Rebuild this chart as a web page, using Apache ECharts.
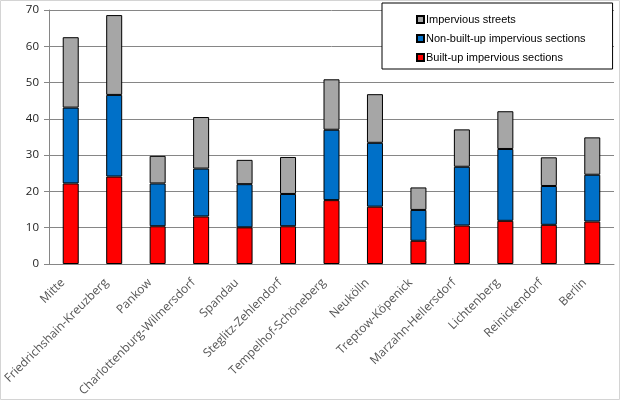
<!DOCTYPE html>
<html>
<head>
<meta charset="utf-8">
<script src="https://cdn.jsdelivr.net/npm/echarts@6/dist/echarts.min.js"></script>
<style>
  html, body { margin: 0; padding: 0; background: #fff; }
  #chart { width: 620px; height: 400px; }
</style>
</head>
<body>
<div id="chart"></div>
<script>
const districts = [
  "Mitte", "Friedrichshain-Kreuzberg", "Pankow", "Charlottenburg-Wilmersdorf",
  "Spandau", "Steglitz-Zehlendorf", "Tempelhof-Schöneberg", "Neukölln",
  "Treptow-Köpenick", "Marzahn-Hellersdorf", "Lichtenberg", "Reinickendorf", "Berlin"
];
const builtUp = [22.2, 24.1, 10.4, 13.1, 10.1, 10.4, 17.6, 15.8, 6.4, 10.6, 11.9, 10.8, 11.7];
const nonBuiltUp = [20.9, 22.5, 11.8, 13.2, 11.9, 8.9, 19.4, 17.6, 8.5, 16.2, 19.8, 10.7, 12.9];
const streets = [19.4, 22.0, 7.6, 14.2, 6.7, 10.2, 13.9, 13.4, 6.2, 10.3, 10.4, 7.9, 10.3];
const yTicks = [0, 10, 20, 30, 40, 50, 60, 70];

const chart = echarts.init(document.getElementById("chart"), null, { renderer: "canvas" });

const barStyle = (color) => ({ color: color, borderColor: "#000", borderWidth: 1 });

chart.setOption({
  animation: false,
  textStyle: { fontFamily: "Open Sans" },
  graphic: [{
    type: "rect",
    shape: { x: 0.5, y: 0.5, width: 619, height: 399 },
    style: { fill: "none", stroke: "#d4d4d4", lineWidth: 1 },
    z: 100
  }],
  grid: { left: 49, right: 6, top: 10, bottom: 136 },
  legend: {
    orient: "vertical",
    left: 382,
    top: 3,
    padding: [11, 27, 6, 34],
    itemGap: 8,
    itemWidth: 7,
    itemHeight: 7,
    icon: "rect",
    backgroundColor: "#fff",
    borderColor: "#000",
    borderWidth: 1,
    borderRadius: 0,
    z: 10,
    data: ["Impervious streets", "Non-built-up impervious sections", "Built-up impervious sections"],
    textStyle: { fontFamily: "Liberation Sans", fontSize: 11, color: "#000", padding: [0, 0, 0, -3] }
  },
  xAxis: {
    type: "category",
    data: districts,
    axisLine: { lineStyle: { color: "#868686" } },
    axisTick: { length: 5, lineStyle: { color: "#868686" } },
    axisLabel: { rotate: 45, margin: 9, padding: [0, 11, 0, 0], fontSize: 12, color: "#555", interval: 0 }
  },
  yAxis: {
    type: "value",
    min: 0,
    max: 70,
    interval: 10,
    axisLine: { show: true, lineStyle: { color: "#868686" } },
    axisTick: { show: true, length: 5, lineStyle: { color: "#868686" } },
    axisLabel: {
      margin: 10, fontSize: 11.5, color: "#222",
      formatter: (v) => (yTicks.includes(v) ? String(v) : "")
    },
    splitLine: { lineStyle: { color: "#868686" } }
  },
  series: [
    { name: "Built-up impervious sections", type: "bar", stack: "a", barWidth: 16, data: builtUp, itemStyle: barStyle("#ff0000") },
    { name: "Non-built-up impervious sections", type: "bar", stack: "a", barWidth: 16, data: nonBuiltUp, itemStyle: barStyle("#0070c8") },
    { name: "Impervious streets", type: "bar", stack: "a", barWidth: 16, data: streets, itemStyle: barStyle("#a6a6a6") }
  ]
});
</script>
</body>
</html>
